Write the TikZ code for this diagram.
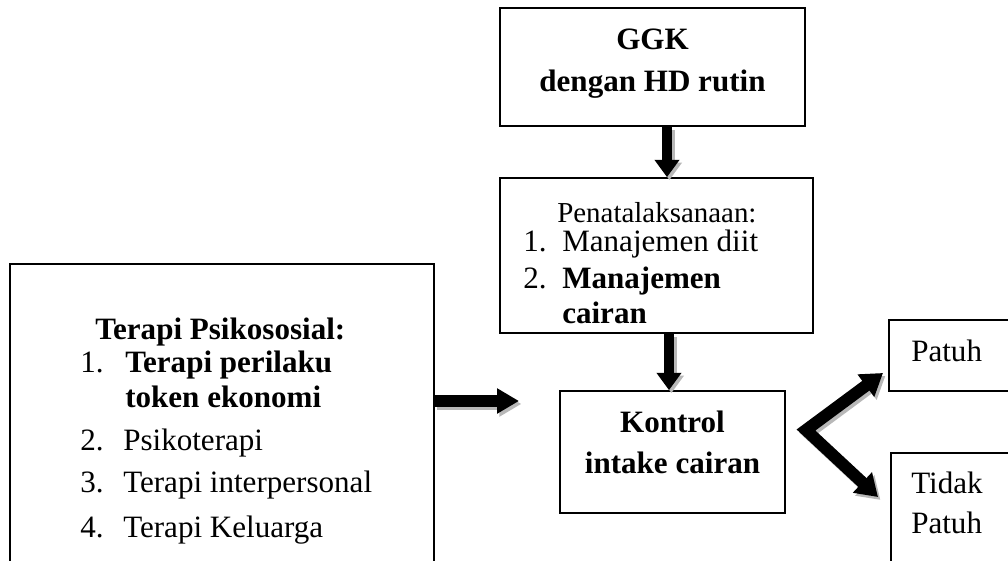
\documentclass[tikz,border=0pt]{standalone}
\usepackage{fontspec}
\setmainfont{Liberation Serif}
\usetikzlibrary{arrows.meta,fit}
\newcommand\bigtxt{\fontsize{23.3pt}{28pt}\selectfont}
\newcommand\midtxt{\fontsize{21.7pt}{26pt}\selectfont}
\begin{document}
\begin{tikzpicture}[x=0.75pt,y=-0.75pt,
  box/.style={draw, line width=1.3pt, inner sep=0pt},
  txt/.style={inner sep=0pt, font=\bigtxt},
  blk/.style={line width=8.2pt, -{Triangle[width=18pt,length=13pt]}},
  hblk/.style={line width=9pt, -{Triangle[width=18pt,length=16.5pt]}},
  vblk/.style={line width=9pt, line join=miter,
    {Triangle[width=20pt,length=16pt]}-{Triangle[width=20pt,length=16pt]}},
  shadow/.style={draw=black!28, transform canvas={xshift=1.8pt,yshift=-2.2pt}}]
\useasboundingbox (0,0) rectangle (1008,561);
\clip (0,0) rectangle (1008,561);

% boxes
\node[box, fit={(500,8) (805,126)}] (ggk) {};
\node[box, fit={(500,178) (813,333)}] (pen) {};
\node[box, fit={(560,391) (785,513)}] (kon) {};
\node[box, fit={(10,264) (434,620)}] (ter) {};
\node[box, fit={(889,320) (1030,391)}] (pat) {};
\node[box, fit={(891,453) (1030,600)}] (tdk) {};

% texts
\node[txt, anchor=base] (g1) at (652.5,49) {\bfseries GGK};
\node[txt, anchor=base] (g2) at (652.5,91) {\bfseries dengan HD rutin};

\node[txt, font=\midtxt, anchor=base west] (p0) at (557,222) {Penatalaksanaan:};
\node[txt, anchor=base west] (p1n) at (523,251) {1.};
\node[txt, anchor=base west] (p1t) at (562,251) {Manajemen diit};
\node[txt, anchor=base west] (p2n) at (523,288) {2.};
\node[txt, anchor=base west] (p2t) at (562,288) {\bfseries Manajemen};
\node[txt, anchor=base west] (p2u) at (562,323) {\bfseries cairan};

\node[txt, anchor=base] (k1) at (672.5,432) {\bfseries Kontrol};
\node[txt, anchor=base] (k2) at (672.5,473) {\bfseries intake cairan};

\node[txt, anchor=base west] (pa) at (911,361) {Patuh};
\node[txt, anchor=base west] (td1) at (911,493) {Tidak};
\node[txt, anchor=base west] (td2) at (911,533) {Patuh};

\node[txt, anchor=base west] (t0) at (95,339) {\bfseries Terapi Psikososial:};
\node[txt, anchor=base west] (t1n) at (80,372) {1.};
\node[txt, anchor=base west] (t1t) at (125,372) {\bfseries Terapi perilaku};
\node[txt, anchor=base west] (t1u) at (125,407) {\bfseries token ekonomi};
\node[txt, anchor=base west] (t2n) at (80,450) {2.};
\node[txt, anchor=base west] (t2t) at (123,450) {Psikoterapi};
\node[txt, anchor=base west] (t3n) at (80,492) {3.};
\node[txt, anchor=base west] (t3t) at (123,492) {Terapi interpersonal};
\node[txt, anchor=base west] (t4n) at (80,537) {4.};
\node[txt, anchor=base west] (t4t) at (123,537) {Terapi Keluarga};

% arrow helper coordinates
\coordinate (ax1) at (667,0);
\coordinate (ax2) at (669,0);
\coordinate (ta) at (519,401);
\coordinate (v) at (806,430);
\coordinate (tu) at (883,373);
\coordinate (tdn) at (878,497);

% shadows
\draw[blk, shadow] (ggk.south -| ax1) -- (pen.north -| ax1);
\draw[blk, shadow] (pen.south -| ax2) -- (kon.north -| ax2);
\draw[hblk, shadow] (ter.east |- ta) -- (ta);
\draw[vblk, shadow] (tu) -- (v) -- (tdn);

% arrows
\draw[blk] (ggk.south -| ax1) -- (pen.north -| ax1);
\draw[blk] (pen.south -| ax2) -- (kon.north -| ax2);
\draw[hblk] (ter.east |- ta) -- (ta);
\draw[vblk] (tu) -- (v) -- (tdn);
\end{tikzpicture}
\end{document}
